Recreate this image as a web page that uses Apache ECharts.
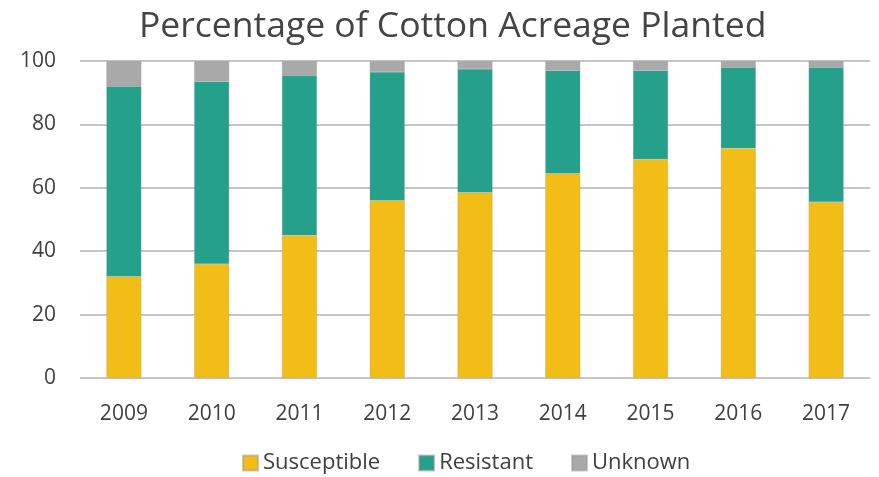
<!DOCTYPE html>
<html>
<head>
<meta charset="utf-8">
<script src="https://cdn.jsdelivr.net/npm/echarts@6/dist/echarts.min.js"></script>
<style>
  html, body { margin: 0; padding: 0; background: #fff; }
  #chart { width: 879px; height: 477px; }
</style>
</head>
<body>
<div id="chart"></div>
<script>
// values (percent of acreage)
var years = ['2009', '2010', '2011', '2012', '2013', '2014', '2015', '2016', '2017']
var susceptible = [32, 36, 45, 56, 58.5, 64.5, 69, 72.5, 55.5]
var resistant = [60, 57.5, 50.5, 40.5, 39, 32.5, 28, 25.5, 42.5]
var unknown = [8, 6.5, 4.5, 3.5, 2.5, 3, 3, 2, 2]

var colors = ['#f2bd17', '#25a08a', '#a9a9a9']
var names = ['Susceptible', 'Resistant', 'Unknown']
var font = '"Open Sans", "Liberation Sans", sans-serif'

var chart = echarts.init(document.getElementById('chart'))

chart.setOption({
  animation: false,
  title: {
    text: 'Percentage of Cotton Acreage Planted',
    left: 134,
    top: 4,
    textStyle: { fontFamily: font, fontSize: 35.5, fontWeight: 'normal', color: '#444' }
  },
  grid: { left: 80, right: 9, top: 61, bottom: 99 },
  legend: {
    bottom: -2,
    left: 237,
    itemWidth: 15,
    itemHeight: 15,
    itemGap: 38,
    icon: 'rect',
    textStyle: { fontFamily: font, fontSize: 22, color: '#404040' },
    data: names
  },
  xAxis: {
    type: 'category',
    data: years,
    axisLine: { show: false },
    axisTick: { show: false },
    axisLabel: { fontFamily: font, fontSize: 21, color: '#404040', margin: 26 }
  },
  yAxis: {
    type: 'value',
    min: 0,
    max: 100,
    interval: 20,
    axisLabel: { fontFamily: font, fontSize: 21, color: '#404040', margin: 24 },
    splitLine: { lineStyle: { color: '#c6c6c6', width: 2 } }
  },
  series: [susceptible, resistant, unknown].map(function (item, index) {
    return {
      name: names[index],
      type: 'bar',
      stack: 'total',
      barWidth: 35,
      data: item,
      itemStyle: { color: colors[index], borderColor: 'rgba(150,150,150,0.5)', borderWidth: 0.5 }
    }
  })
})
</script>
</body>
</html>
